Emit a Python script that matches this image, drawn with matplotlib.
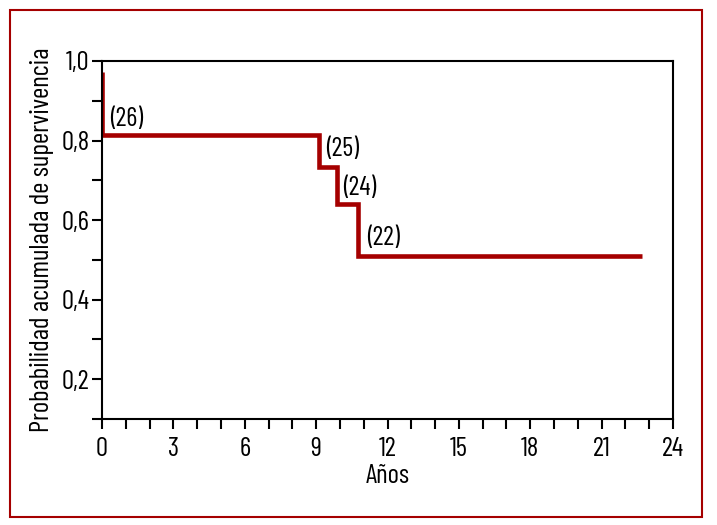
import matplotlib
matplotlib.use("Agg")
import matplotlib.pyplot as plt
from matplotlib.patches import Rectangle
from matplotlib.ticker import MultipleLocator, FuncFormatter

plt.rcParams['font.family'] = ['Barlow Condensed', 'Archivo Narrow', 'DejaVu Sans']

# Curva de supervivencia (escalones)
anios = [0, 0, 9.12, 9.12, 9.88, 9.88, 10.76, 10.76, 22.7]
prob = [0.972, 0.813, 0.813, 0.734, 0.734, 0.64, 0.64, 0.511, 0.511]

# Etiquetas de pacientes en riesgo
etiquetas = ['(26)', '(25)', '(24)', '(22)']
etiq_x = [0.36, 9.43, 10.15, 11.16]
etiq_y = [0.853, 0.78, 0.681, 0.554]

rojo = '#a50000'

fig = plt.figure(figsize=(7.17, 5.25), dpi=100)
ax = fig.add_axes([102 / 717, 106 / 525, 571 / 717, 358 / 525])

ax.plot(anios, prob, color=rojo, lw=3.3, solid_joinstyle='miter', solid_capstyle='butt')
for t, x, y in zip(etiquetas, etiq_x, etiq_y):
    ax.text(x, y, t, fontsize=19, ha='left', va='center')

ax.set_xlim(0, 24)
ax.set_ylim(0.1, 1.0)
ax.xaxis.set_major_locator(MultipleLocator(3))
ax.xaxis.set_minor_locator(MultipleLocator(1))
ax.yaxis.set_major_locator(MultipleLocator(0.2))
ax.yaxis.set_minor_locator(MultipleLocator(0.1))
ax.yaxis.set_major_formatter(FuncFormatter(lambda v, p: f'{v:.1f}'.replace('.', ',')))
ax.tick_params(which='both', direction='out', width=1.5, length=7, labelsize=19.5)
ax.tick_params(axis='x', pad=6)
ax.tick_params(axis='y', pad=2)
for s in ax.spines.values():
    s.set_linewidth(1.5)

ax.set_xlabel('Años', fontsize=19.5, labelpad=2)
ax.set_ylabel('Probabilidad acumulada de supervivencia', fontsize=19.5, labelpad=5)

fig.patches.append(Rectangle((10 / 717, 8 / 525), 692 / 717, 507 / 525,
                             transform=fig.transFigure, fill=False,
                             edgecolor=rojo, lw=1.5))

fig.savefig('out.png', dpi=100)
